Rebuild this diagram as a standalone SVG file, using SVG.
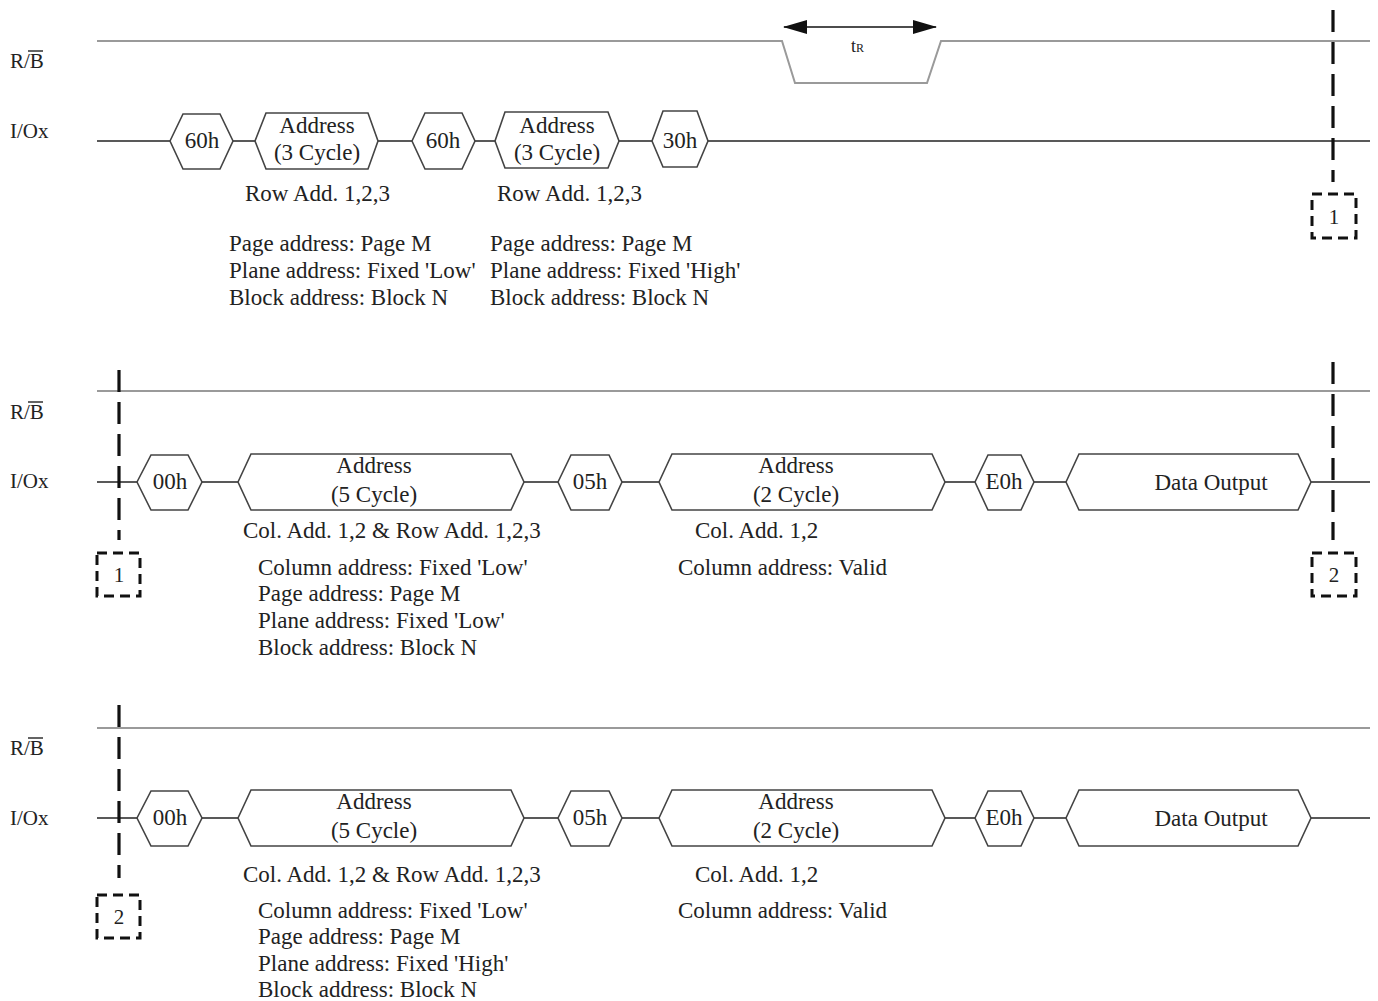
<svg xmlns="http://www.w3.org/2000/svg" width="1378" height="1001" viewBox="0 0 1378 1001">
<defs>
<marker id="ah" viewBox="0 0 24 14" refX="23" refY="7" markerWidth="24" markerHeight="14" markerUnits="userSpaceOnUse" orient="auto-start-reverse">
<path d="M0,0 L24,7 L0,14 Z" fill="#111"/>
</marker>
</defs>
<style>
text{font-family:"Liberation Serif","Times New Roman",serif;fill:#222;font-size:23px}
.c{text-anchor:middle}
.lbl{font-size:21px}
.hex{fill:#fff;stroke:#444;stroke-width:1.6}
.rb{fill:none;stroke:#9a9a9a;stroke-width:2}
.io{fill:none;stroke:#222;stroke-width:1.6}
.dv{stroke:#111;stroke-width:3.2;stroke-dasharray:22,10;fill:none}
.db{fill:#fff;stroke:#111;stroke-width:3;stroke-dasharray:10,6}
.ob{stroke:#222;stroke-width:1.4}
</style>
<rect width="1378" height="1001" fill="#fff"/>

<g id="labels">
<text class="lbl" x="10" y="68">R/B</text><line class="ob" x1="28" y1="51" x2="43" y2="51"/>
<text class="lbl" x="10" y="138">I/Ox</text>
<text class="lbl" x="10" y="419">R/B</text><line class="ob" x1="28" y1="402" x2="43" y2="402"/>
<text class="lbl" x="10" y="488">I/Ox</text>
<text class="lbl" x="10" y="755">R/B</text><line class="ob" x1="28" y1="738" x2="43" y2="738"/>
<text class="lbl" x="10" y="825">I/Ox</text>
</g>

<g id="connectors">
<polyline class="rb" points="97,41 782,41 795,83 927,83 941,41 1370,41"/>
<line x1="784" y1="27" x2="936" y2="27" stroke="#111" stroke-width="1.6" marker-start="url(#ah)" marker-end="url(#ah)"/>
<line class="io" x1="97" y1="141" x2="1370" y2="141"/>
<line class="rb" x1="97" y1="391" x2="1370" y2="391"/>
<line class="io" x1="97" y1="482" x2="1370" y2="482"/>
<line class="rb" x1="97" y1="728" x2="1370" y2="728"/>
<line class="io" x1="97" y1="818" x2="1370" y2="818"/>
<line class="dv" x1="1333" y1="10" x2="1333" y2="182"/>
<line class="dv" x1="119" y1="370" x2="119" y2="540"/>
<line class="dv" x1="1333" y1="362" x2="1333" y2="540"/>
<line class="dv" x1="119" y1="705" x2="119" y2="878"/>
</g>

<g id="tR"><text x="851" y="52" style="font-size:18px">t<tspan style="font-size:12px">R</tspan></text></g>

<!-- Section 1 -->
<g id="s1-60h-a"><polygon class="hex" points="170,141 183,114 220,114 233,141 220,169 183,169"/><text class="c" x="202" y="148">60h</text></g>
<g id="s1-addr-a"><polygon class="hex" points="255,141 266,113 368,113 378,141 368,169 266,169"/><text class="c" x="317" y="133">Address</text><text class="c" x="317" y="160">(3 Cycle)</text></g>
<g id="s1-60h-b"><polygon class="hex" points="412,141 425,113 462,113 475,141 462,169 425,169"/><text class="c" x="443" y="148">60h</text></g>
<g id="s1-addr-b"><polygon class="hex" points="495,141 505,112 608,112 619,141 608,168 505,168"/><text class="c" x="557" y="133">Address</text><text class="c" x="557" y="160">(3 Cycle)</text></g>
<g id="s1-30h"><polygon class="hex" points="652,141 663,111 697,111 708,141 697,167 663,167"/><text class="c" x="680" y="148">30h</text></g>
<g id="s1-notes">
<text x="245" y="201">Row Add. 1,2,3</text>
<text x="229" y="251">Page address: Page M</text>
<text x="229" y="278">Plane address: Fixed 'Low'</text>
<text x="229" y="305">Block address: Block N</text>
<text x="497" y="201">Row Add. 1,2,3</text>
<text x="490" y="251">Page address: Page M</text>
<text x="490" y="278">Plane address: Fixed 'High'</text>
<text x="490" y="305">Block address: Block N</text>
</g>
<g id="s1-ref1"><rect class="db" x="1312" y="194" width="44" height="44"/><text class="c lbl" x="1334" y="224">1</text></g>

<!-- Section 2 -->
<g id="s2-00h"><polygon class="hex" points="137,482 151,455 188,455 202,482 188,510 151,510"/><text class="c" x="170" y="489">00h</text></g>
<g id="s2-addr5"><polygon class="hex" points="238,482 251,454 511,454 524,482 511,510 251,510"/><text class="c" x="374" y="473">Address</text><text class="c" x="374" y="502">(5 Cycle)</text></g>
<g id="s2-05h"><polygon class="hex" points="558,482 571,455 609,455 622,482 609,510 571,510"/><text class="c" x="590" y="489">05h</text></g>
<g id="s2-addr2"><polygon class="hex" points="659,482 672,454 932,454 945,482 932,510 672,510"/><text class="c" x="796" y="473">Address</text><text class="c" x="796" y="502">(2 Cycle)</text></g>
<g id="s2-e0h"><polygon class="hex" points="975,482 988,455 1021,455 1034,482 1021,510 988,510"/><text class="c" x="1004" y="489">E0h</text></g>
<g id="s2-data"><polygon class="hex" points="1066,482 1079,454 1298,454 1311,482 1298,510 1079,510"/><text class="c" x="1211" y="490">Data Output</text></g>
<g id="s2-notes">
<text x="243" y="538">Col. Add. 1,2 &amp; Row Add. 1,2,3</text>
<text x="258" y="575">Column address: Fixed 'Low'</text>
<text x="258" y="601">Page address: Page M</text>
<text x="258" y="628">Plane address: Fixed 'Low'</text>
<text x="258" y="655">Block address: Block N</text>
<text x="695" y="538">Col. Add. 1,2</text>
<text x="678" y="575">Column address: Valid</text>
</g>
<g id="s2-ref1"><rect class="db" x="97" y="553" width="43" height="43"/><text class="c lbl" x="119" y="582">1</text></g>
<g id="s2-ref2"><rect class="db" x="1312" y="553" width="44" height="43"/><text class="c lbl" x="1334" y="582">2</text></g>

<!-- Section 3 -->
<g id="s3-00h"><polygon class="hex" points="137,818 151,791 188,791 202,818 188,846 151,846"/><text class="c" x="170" y="825">00h</text></g>
<g id="s3-addr5"><polygon class="hex" points="238,818 251,790 511,790 524,818 511,846 251,846"/><text class="c" x="374" y="809">Address</text><text class="c" x="374" y="838">(5 Cycle)</text></g>
<g id="s3-05h"><polygon class="hex" points="558,818 571,791 609,791 622,818 609,846 571,846"/><text class="c" x="590" y="825">05h</text></g>
<g id="s3-addr2"><polygon class="hex" points="659,818 672,790 932,790 945,818 932,846 672,846"/><text class="c" x="796" y="809">Address</text><text class="c" x="796" y="838">(2 Cycle)</text></g>
<g id="s3-e0h"><polygon class="hex" points="975,818 988,791 1021,791 1034,818 1021,846 988,846"/><text class="c" x="1004" y="825">E0h</text></g>
<g id="s3-data"><polygon class="hex" points="1066,818 1079,790 1298,790 1311,818 1298,846 1079,846"/><text class="c" x="1211" y="826">Data Output</text></g>
<g id="s3-notes">
<text x="243" y="882">Col. Add. 1,2 &amp; Row Add. 1,2,3</text>
<text x="258" y="918">Column address: Fixed 'Low'</text>
<text x="258" y="944">Page address: Page M</text>
<text x="258" y="971">Plane address: Fixed 'High'</text>
<text x="258" y="997">Block address: Block N</text>
<text x="695" y="882">Col. Add. 1,2</text>
<text x="678" y="918">Column address: Valid</text>
</g>
<g id="s3-ref2"><rect class="db" x="97" y="895" width="43" height="43"/><text class="c lbl" x="119" y="924">2</text></g>
</svg>
